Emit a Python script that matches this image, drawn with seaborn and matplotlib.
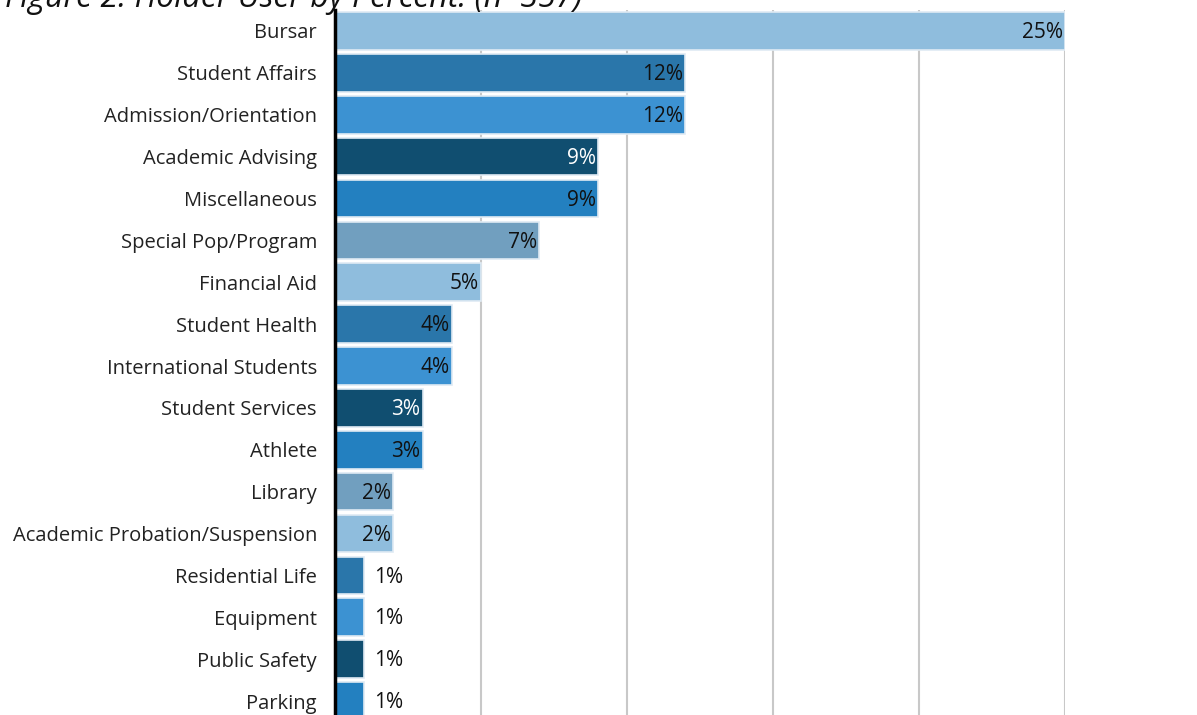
import seaborn as sns
import pandas as pd
import matplotlib.pyplot as plt

categories = ["Bursar", "Student Affairs", "Admission/Orientation", "Academic Advising",
              "Miscellaneous", "Special Pop/Program", "Financial Aid", "Student Health",
              "International Students", "Student Services", "Athlete", "Library",
              "Academic Probation/Suspension", "Residential Life", "Equipment",
              "Public Safety", "Parking"]
values = [25, 12, 12, 9, 9, 7, 5, 4, 4, 3, 3, 2, 2, 1, 1, 1, 1]
cycle = ["#8FBDDD", "#2A76AA", "#3C92D2", "#104E70", "#2380C0", "#719FBF"]
title = "Figure 2. Holder User by Percent. (n=357)"

colors = [cycle[i % len(cycle)] for i in range(len(categories))]
df = pd.DataFrame({"cat": categories, "pct": values})

sns.set_style("white")
plt.rcParams['font.family'] = ['Open Sans', 'DejaVu Sans']

fig = plt.figure(figsize=(11.97, 7.15), dpi=100)
ax = fig.add_axes([335 / 1197, 1 - 722 / 715, 730 / 1197, 712 / 715])

sns.barplot(data=df, x="pct", y="cat", hue="cat", palette=colors, legend=False,
            orient="h", width=0.9, saturation=1, edgecolor="#dfeaf3", linewidth=1.2,
            ax=ax, zorder=2)

ax.set_xlim(0, 25)
ax.set_xticks([5, 10, 15, 20, 25])
ax.set_xticklabels([])
ax.xaxis.grid(True, color="#c8c8c8", linewidth=1.5, zorder=0)
ax.set_axisbelow(True)
ax.set_xlabel("")
ax.set_ylabel("")
for s in ["top", "right", "bottom"]:
    ax.spines[s].set_visible(False)
ax.spines["left"].set_color("black")
ax.spines["left"].set_linewidth(2.5)
ax.spines["left"].set_zorder(5)
ax.tick_params(axis="y", length=0, pad=13, labelsize=14.5, labelcolor="#222222")
ax.tick_params(axis="x", length=0)

# percent labels: inside the bar, or just outside for the 1% ones
for i, (v, c) in enumerate(zip(values, colors)):
    if v >= 2:
        tc = "white" if c == "#104E70" else "#111111"
        ax.annotate(f"{v}%", (v, i), xytext=(-1.5, -1.2), textcoords="offset points",
                    ha="right", va="center", fontsize=15, color=tc, zorder=6)
    else:
        ax.annotate(f"{v}%", (v, i), xytext=(7, -1.2), textcoords="offset points",
                    ha="left", va="center", fontsize=15, color="#111111", zorder=6)

fig.text(0.004, 1 - 7 / 715, title, fontsize=23, fontstyle="italic",
         ha="left", va="baseline", color="#111111")

fig.savefig("out.png", dpi=100)
